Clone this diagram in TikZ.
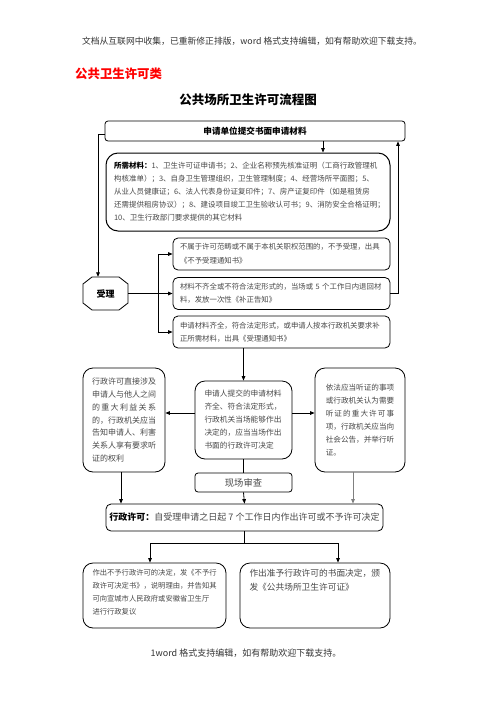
\documentclass[tikz,border=0pt]{standalone}
\usepackage{fontspec}
\setmainfont{Noto Sans CJK SC}
\usetikzlibrary{arrows.meta,calc}
\definecolor{txt}{gray}{0.28}
\definecolor{hdrc}{gray}{0.2}
\tikzset{
  box/.style={draw, line width=0.8pt, inner sep=0pt, text=txt},
  arr/.style={-{Triangle[length=4.5pt,width=3.6pt]}, line width=0.8pt},
  ln/.style={line width=0.8pt},
  plain/.style={inner sep=0pt},
}
\begin{document}
\begin{tikzpicture}[x=1pt,y=-1pt]
\useasboundingbox (0,0) rectangle (496,702);
% header texts
\node[plain, text=hdrc, font=\fontsize{8.8}{10}\selectfont] (hd) at (252,41) {文档从互联网中收集，已重新修正排版，word 格式支持编辑，如有帮助欢迎下载支持。};
\node[plain, anchor=west, text=red, font=\bfseries\fontsize{12.4}{14}\selectfont] (cat) at (75,74) {公共卫生许可类};
\node[plain, font=\bfseries\fontsize{12.5}{14}\selectfont] (title) at (248,100) {公共场所卫生许可流程图};
% top box
\node[box, rounded corners=3pt, minimum width=300pt, minimum height=20pt, text=black, font=\bfseries\fontsize{8.6}{10}\selectfont] (top) at (255,131) {申请单位提交书面申请材料};
% materials
\node[box, rounded corners=12pt, line width=1pt, minimum width=284pt, minimum height=78pt, text width=268pt, align=left, font=\fontsize{7.5}{13}\selectfont] (mat) at (248,192)
{\textcolor{black}{\textbf{所需材料：}}1、卫生许可证申请书；2、企业名称预先核准证明（工商行政管理机\\
构核准单）；3、自身卫生管理组织，卫生管理制度；4、经营场所平面图；5、\\
从业人员健康证；6、法人代表身份证复印件；7、房产证复印件（如是租赁房\\
还需提供租房协议）；8、建设项目竣工卫生验收认可书；9、消防安全合格证明；\\
10、卫生行政部门要求提供的其它材料};
% accept
\node[plain, minimum width=45pt, minimum height=33pt, font=\bfseries\fontsize{9}{10}\selectfont] (sl) at (105.5,293.5) {受理};
\draw[ln] (sl.center) ++(-13.5,-16.5) -- ++(27,0) -- ++(9,7) -- ++(0,19) -- ++(-9,7) -- ++(-27,0) -- ++(-9,-7) -- ++(0,-19) -- cycle;
% three outcome boxes
\node[box, rounded corners=5pt, minimum width=217pt, minimum height=32pt, text width=203pt, align=left, font=\fontsize{7.4}{14}\selectfont] (b1) at (281.5,254)
{不属于许可范畴或不属于本机关职权范围的，不予受理，出具\\《不予受理通知书》};
\node[box, rounded corners=5pt, minimum width=217pt, minimum height=32pt, text width=203pt, align=left, font=\fontsize{7.4}{13}\selectfont] (b2) at (281.5,293.5)
{材料不齐全或不符合法定形式的，当场或 5 个工作日内退回材\\料，发放一次性《补正告知》};
\node[box, rounded corners=5pt, minimum width=217pt, minimum height=32pt, text width=203pt, align=left, font=\fontsize{7.4}{13}\selectfont] (b3) at (281.5,332)
{申请材料齐全，符合法定形式，或申请人按本行政机关要求补\\正所需材料，出具《受理通知书》};
% middle row
\node[box, rounded corners=10pt, minimum width=97pt, minimum height=78pt, text width=78pt, align=left, font=\fontsize{7.7}{13}\selectfont] (c) at (243.5,420)
{申请人提交的申请材料\\齐全、符合法定形式，\\行政机关当场能够作出\\决定的，应当当场作出\\书面的行政许可决定};
\node[box, rounded corners=10pt, minimum width=82pt, minimum height=104pt, text width=64pt, align=left, font=\fontsize{8}{12.7}\selectfont] (L) at (124,420)
{行政许可直接涉及\\申请人与他人之间\\\makebox[64pt][l]{的\hfill 重\hfill 大\hfill 利\hfill 益\hfill 关\hfill 系}\\的，行政机关应当\\告知申请人、利害\\关系人享有要求听\\证的权利};
\node[box, rounded corners=10pt, minimum width=90pt, minimum height=104pt, text width=68.4pt, align=left, font=\fontsize{7.6}{13}\selectfont] (R) at (360,420)
{依法应当听证的事项\\或行政机关认为需要\\\makebox[68.4pt][l]{听\hfill 证\hfill 的\hfill 重\hfill 大\hfill 许\hfill 可\hfill 事}\\项，行政机关应当向\\社会公告，并举行听\\证。};
\node[box, rounded corners=3pt, minimum width=97pt, minimum height=19pt, font=\fontsize{9.3}{10}\selectfont] (xc) at (243.5,482.5) {现场审查};
\node[box, rounded corners=5pt, minimum width=277pt, minimum height=27pt, font=\fontsize{9}{10}\selectfont] (xk) at (244.5,517.5)
{\textcolor{black}{\textbf{行政许可：}}自受理申请之日起 7 个工作日内作出许可或不予许可决定};
% bottom boxes
\node[box, rounded corners=10pt, minimum width=143pt, minimum height=65pt, font=\fontsize{7.3}{13}\selectfont] (bl) at (154.5,595.5)
{\begin{minipage}[c][52pt][t]{124pt}作出不予行政许可的决定，发《不予行\\政许可决定书》，说明理由，并告知其\\可向宣城市人民政府或安徽省卫生厅\\进行行政复议\end{minipage}};
\node[box, rounded corners=10pt, minimum width=150pt, minimum height=65pt, font=\fontsize{8.7}{13.3}\selectfont] (br) at (315,595.5)
{\begin{minipage}[c][52pt][t]{131pt}作出准予行政许可的书面决定，颁\\发《公共场所卫生许可证》\end{minipage}};
% footer
\node[plain, text=hdrc, font=\fontsize{9}{10}\selectfont] (ft) at (246,653) {1word 格式支持编辑，如有帮助欢迎下载支持。};
% helper coordinates
\coordinate (t1) at (323,0);
\coordinate (lp) at (98,0);
\coordinate (rp) at (398,0);
\coordinate (bx) at (158,0);
\coordinate (j1) at (150,543);
\coordinate (j2) at (338,543);
% connectors
\draw[arr] (t1 |- top.south) -- (t1 |- mat.north);
\draw[arr] ([yshift=-3pt]top.west) -| (lp |- sl.north);
\draw[arr] (b2.east) -| (rp |- top.south);
\draw[arr] (sl.east) -- (b2.west);
\draw[arr] (bx |- sl.east) |- (b1.west);
\draw[arr] (bx |- sl.east) |- (b3.west);
\draw[arr] (c.north |- b3.south) -- (c.north);
\draw[arr] ([yshift=7pt]c.west) -- ([yshift=7pt]L.east);
\draw[arr] ([yshift=7pt]c.east) -- ([yshift=7pt]R.west);
\draw[ln] (c.south) -- (xc.north);
\draw[arr] (xc.south) -- (xk.north);
\draw[arr] ([xshift=-3pt]L.south) -- ([xshift=-3pt]L.south |- xk.north);
\draw[arr, draw=gray] ([xshift=-7pt]R.south) -- ([xshift=-7pt]R.south |- xk.north);
\draw[ln] (xk.south) -- (xk.south |- j1);
\draw[ln] (j1) -- (j2);
\draw[arr] (j1) -- (j1 |- bl.north);
\draw[arr] (j2) -- (j2 |- br.north);
\end{tikzpicture}
\end{document}
